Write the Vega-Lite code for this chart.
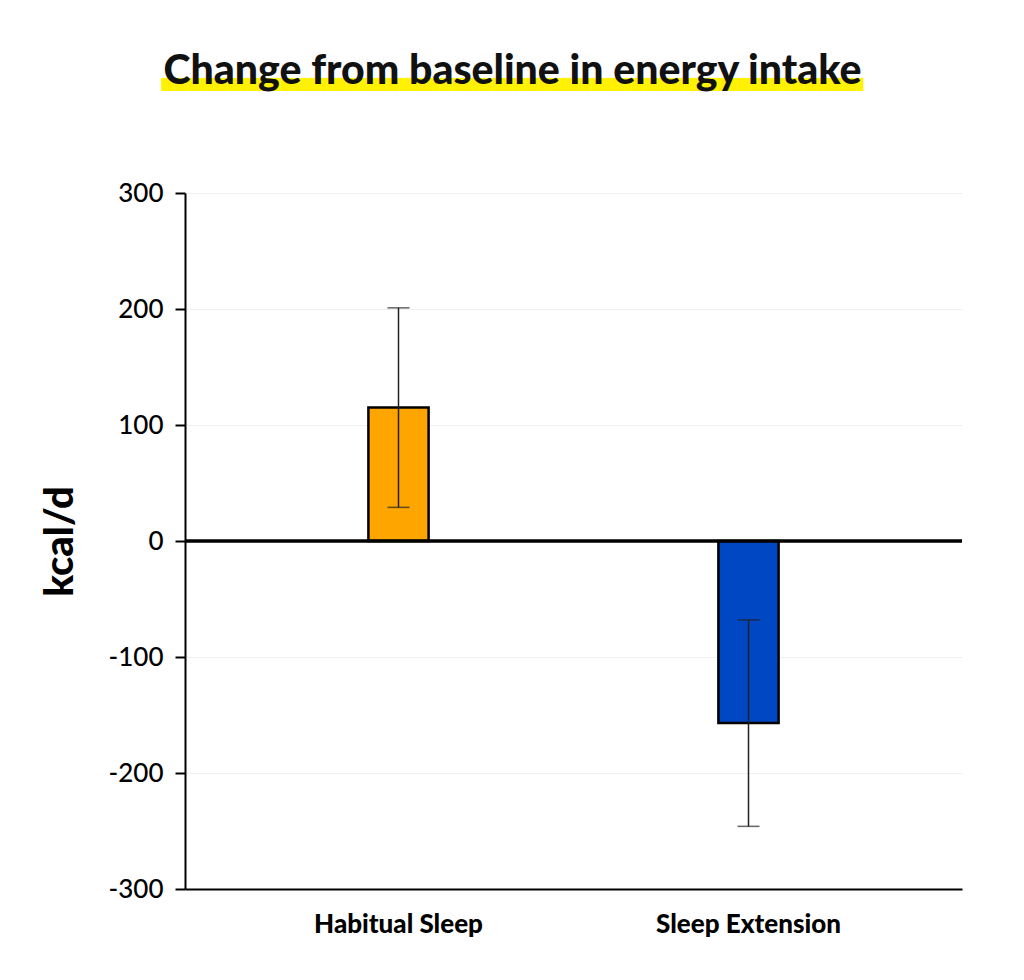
{
  "$schema": "https://vega.github.io/schema/vega-lite/v6.json",
  "autosize": "none",
  "width": 777,
  "height": 696,
  "padding": {"left": 185, "top": 193, "right": 62, "bottom": 91},
  "background": "white",
  "config": {"view": {"stroke": null}},
  "title": {
    "text": "██████████████████████████████████████████████████████████████████████████████████████████████████████████",
    "subtitle": "Change from baseline in energy intake",
    "font": "DejaVu Sans Mono",
    "fontSize": 11,
    "color": "#FFF100",
    "subtitleFont": "Lato",
    "subtitleFontSize": 41,
    "subtitleFontWeight": 900,
    "subtitleColor": "#111111",
    "subtitlePadding": -38,
    "anchor": "middle",
    "frame": "group",
    "dx": -61,
    "offset": 60
  },
  "data": {
    "values": [
      {"group": "Habitual Sleep", "mean": 115, "lower": 29, "upper": 201},
      {"group": "Sleep Extension", "mean": -157, "lower": -246, "upper": -68}
    ]
  },
  "layer": [
    {
      "mark": {"type": "bar", "stroke": "black", "strokeWidth": 2.5},
      "encoding": {
        "x": {
          "field": "group", "type": "nominal", "sort": null,
          "scale": {"paddingInner": 0.828, "paddingOuter": 0.524},
          "axis": {
            "title": null, "labelAngle": 0, "labelFont": "Lato", "labelFontSize": 26,
            "labelFontWeight": 900, "labelColor": "black", "labelPadding": 22,
            "labelLimit": 400, "labelOverlap": false,
            "ticks": false, "domainColor": "black", "domainWidth": 2
          }
        },
        "y": {
          "field": "mean", "type": "quantitative",
          "scale": {"domain": [-300, 300], "nice": false},
          "axis": {
            "values": [-300, -200, -100, 0, 100, 200, 300],
            "labelExpr": "replace(datum.label, '\u2212', '-')",
            "title": "kcal/d", "titleFont": "Lato", "titleFontSize": 40,
            "titleFontWeight": 900, "titleColor": "black", "titlePadding": 28,
            "labelFont": "Lato", "labelFontSize": 26, "labelFontWeight": 500, "labelColor": "black",
            "labelPadding": 12, "tickColor": "black", "tickWidth": 2, "tickSize": 10,
            "domainColor": "black", "domainWidth": 2, "grid": true, "gridColor": "#f0f0f0"
          }
        },
        "color": {
          "field": "group", "type": "nominal",
          "scale": {"domain": ["Habitual Sleep", "Sleep Extension"], "range": ["#FFA500", "#0047C4"]},
          "legend": null
        }
      }
    },
    {
      "mark": {"type": "rule", "color": "black", "strokeWidth": 3},
      "encoding": {"y": {"datum": 0}}
    },
    {
      "mark": {"type": "rule", "color": "#222222", "strokeWidth": 1.5},
      "encoding": {
        "x": {"field": "group", "type": "nominal", "sort": null},
        "y": {"field": "lower", "type": "quantitative"},
        "y2": {"field": "upper"}
      }
    },
    {
      "mark": {"type": "tick", "color": "#222222", "thickness": 1.5, "size": 22},
      "encoding": {
        "x": {"field": "group", "type": "nominal", "sort": null},
        "y": {"field": "lower", "type": "quantitative"}
      }
    },
    {
      "mark": {"type": "tick", "color": "#222222", "thickness": 1.5, "size": 22},
      "encoding": {
        "x": {"field": "group", "type": "nominal", "sort": null},
        "y": {"field": "upper", "type": "quantitative"}
      }
    }
  ]
}
